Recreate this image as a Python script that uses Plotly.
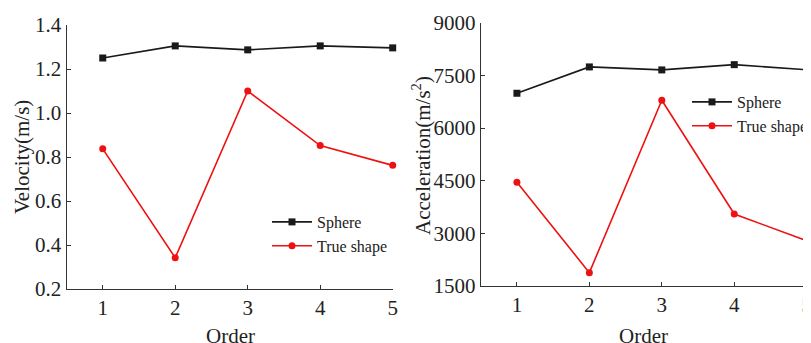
import plotly.graph_objects as go

order = [1, 2, 3, 4, 5]
velocity_sphere = [1.25, 1.305, 1.287, 1.305, 1.296]
velocity_true = [0.837, 0.342, 1.10, 0.852, 0.762]
accel_sphere = [6990, 7740, 7655, 7805, 7660]
accel_true = [4455, 1880, 6790, 3550, 2790]
series_names = ["Sphere", "True shape"]
vel_ticks = [0.2, 0.4, 0.6, 0.8, 1.0, 1.2, 1.4]
acc_ticks = [1500, 3000, 4500, 6000, 7500, 9000]

BLACK = "#1a1a1a"
RED = "#ee1111"
FONT = "Liberation Serif"

# page has an 8px body margin; figure is sized to fill the rest of the window
OFF = 8
W, H = 811 - OFF, 343 - OFF


def px(x):
    return (x - OFF) / W


def py(y):
    return 1 - (y - OFF) / H


fig = go.Figure()


def add_pair(xa, ya, ys, yt, leg):
    fig.add_trace(go.Scatter(x=order, y=ys, name=series_names[0], mode="lines+markers",
                             line=dict(color=BLACK, width=1.6),
                             marker=dict(symbol="square", size=7, color=BLACK),
                             xaxis=xa, yaxis=ya, legend=leg, cliponaxis=False))
    fig.add_trace(go.Scatter(x=order, y=yt, name=series_names[1], mode="lines+markers",
                             line=dict(color=RED, width=1.6),
                             marker=dict(symbol="circle", size=7, color=RED),
                             xaxis=xa, yaxis=ya, legend=leg, cliponaxis=False))


add_pair("x", "y", velocity_sphere, velocity_true, "legend")
add_pair("x2", "y2", accel_sphere, accel_true, "legend2")

axis_common = dict(showline=True, linecolor="#333333", linewidth=1.2, ticks="inside",
                   ticklen=4, tickcolor="#333333", showgrid=False, zeroline=False,
                   automargin=False, ticklabeloverflow="allow",
                   tickfont=dict(family=FONT, size=21, color="#222222"))

leg_font = dict(family=FONT, size=16, color="#222222")
fig.update_layout(
    width=W, height=H, margin=dict(l=0, r=0, t=0, b=0, autoexpand=False),
    paper_bgcolor="white", plot_bgcolor="white",
    font=dict(family=FONT, color="#222222"),
    xaxis=dict(domain=[px(66.5), px(392.7)], range=[0.5, 5], tickvals=order,
               anchor="y", **axis_common),
    yaxis=dict(domain=[py(289), py(25)], range=[0.2, 1.4], tickvals=vel_ticks,
               ticktext=[f"{v:.1f}" for v in vel_ticks], anchor="x", **axis_common),
    xaxis2=dict(domain=[px(480.7), px(806.7)], range=[0.5, 5], tickvals=order,
                anchor="y2", **axis_common),
    yaxis2=dict(domain=[py(286), py(22.7)], range=[1500, 9000], tickvals=acc_ticks,
                anchor="x2", **axis_common),
    legend=dict(x=px(267), y=py(205), xanchor="left", yanchor="top",
                bgcolor="rgba(0,0,0,0)", font=leg_font, tracegroupgap=0, itemwidth=40),
    legend2=dict(x=px(687), y=py(85), xanchor="left", yanchor="top",
                 bgcolor="rgba(0,0,0,0)", font=leg_font, tracegroupgap=0, itemwidth=40),
    showlegend=True,
)

ann_font = dict(family=FONT, size=21, color="#222222")
fig.add_annotation(text="Velocity(m/s)", x=px(22), y=py(157), xref="paper", yref="paper",
                   textangle=-90, showarrow=False, font=ann_font, xanchor="center", yanchor="middle")
fig.add_annotation(text="Acceleration(m/s<sup>2</sup>)", x=px(421), y=py(155), xref="paper",
                   yref="paper", textangle=-90, showarrow=False, font=ann_font,
                   xanchor="center", yanchor="middle")
fig.add_annotation(text="Order", x=px(230), y=py(336), xref="paper", yref="paper",
                   showarrow=False, font=ann_font, xanchor="center", yanchor="middle")
fig.add_annotation(text="Order", x=px(643), y=py(336), xref="paper", yref="paper",
                   showarrow=False, font=ann_font, xanchor="center", yanchor="middle")

fig.write_html("out.html")
